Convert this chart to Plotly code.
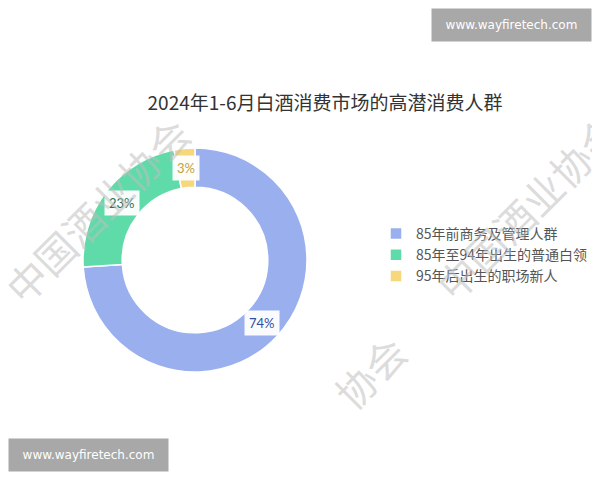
import math
import plotly.graph_objects as go

labels = ["85年前商务及管理人群", "85年至94年出生的普通白领", "95年后出生的职场新人"]
values = [74, 23, 3]
colors = ["#9aafee", "#5fdaa9", "#f6d77c"]
label_colors = ["#2f4f9e", "#2f6d58", "#c3a13a"]
title_text = "2024年1-6月白酒消费市场的高潜消费人群"
watermark = "中国酒业协会"
site = "www.wayfiretech.com"

W, H = 600, 480
OFF = 8  # page body margin offset


def px_x(x):
    return (x - OFF) / W


def px_y(y):
    return 1 - (y - OFF) / H


hole = 0.65
cx_page, cy_page, R = 195, 260, 112
dom_x = [px_x(cx_page - R), px_x(cx_page + R)]
dom_y = [px_y(cy_page + R), px_y(cy_page - R)]

fig = go.Figure()
fig.add_trace(go.Pie(
    labels=labels, values=values, hole=hole, sort=False,
    direction="clockwise", rotation=0,
    textinfo="none", hoverinfo="label+percent",
    domain=dict(x=dom_x, y=dom_y),
    marker=dict(colors=colors, line=dict(color="white", width=1.5)),
))

# percentage labels placed at the ring's mid radius, derived from the data
rm = R * (1 + hole) / 2
total = sum(values)
cum = 0
annotations = []
for v, c in zip(values, label_colors):
    mid = (cum + v / 2) / total * 2 * math.pi
    cum += v
    lx = cx_page + rm * math.sin(mid)
    ly = cy_page - rm * math.cos(mid)
    annotations.append(dict(
        x=px_x(lx), y=px_y(ly), xref="paper", yref="paper",
        xanchor="center", yanchor="middle",
        text=f"{round(v / total * 100)}%", showarrow=False,
        font=dict(family="Lato, Noto Sans", size=13, color=c),
        bgcolor="rgba(255,255,255,0.95)", borderpad=4,
    ))

# watermarks
wm_font = dict(family="Noto Sans CJK SC", size=40, color="rgba(190,190,190,0.55)")
for (wx, wy, txt) in [(97, 210, watermark), (528, 207, watermark), (370, 372, watermark[-2:])]:
    annotations.append(dict(x=px_x(wx), y=px_y(wy), xref="paper", yref="paper",
                            xanchor="center", yanchor="middle",
                            text=txt, showarrow=False, textangle=-45, font=wm_font))

# site badges
for (bx, by) in [(511.5, 24.5), (88.5, 455)]:
    annotations.append(dict(x=px_x(bx), y=px_y(by), xref="paper", yref="paper",
                            xanchor="center", yanchor="middle",
                            text=site, showarrow=False, width=157, height=30,
                            bgcolor="#a8a8a8",
                            font=dict(family="DejaVu Sans", size=12, color="white")))

fig.update_layout(
    width=W, height=H,
    margin=dict(l=0, r=0, t=0, b=0),
    paper_bgcolor="white", plot_bgcolor="white",
    title=dict(text=title_text, x=px_x(325), xanchor="center", y=px_y(103), yanchor="middle",
               font=dict(family="Noto Sans CJK SC", size=19, color="#333333")),
    legend=dict(x=px_x(376), y=px_y(255), yanchor="middle", xanchor="left",
                font=dict(family="Noto Sans CJK SC", size=14, color="#555555"),
                bgcolor="rgba(0,0,0,0)"),
    annotations=annotations,
)

fig.write_html("out.html")
